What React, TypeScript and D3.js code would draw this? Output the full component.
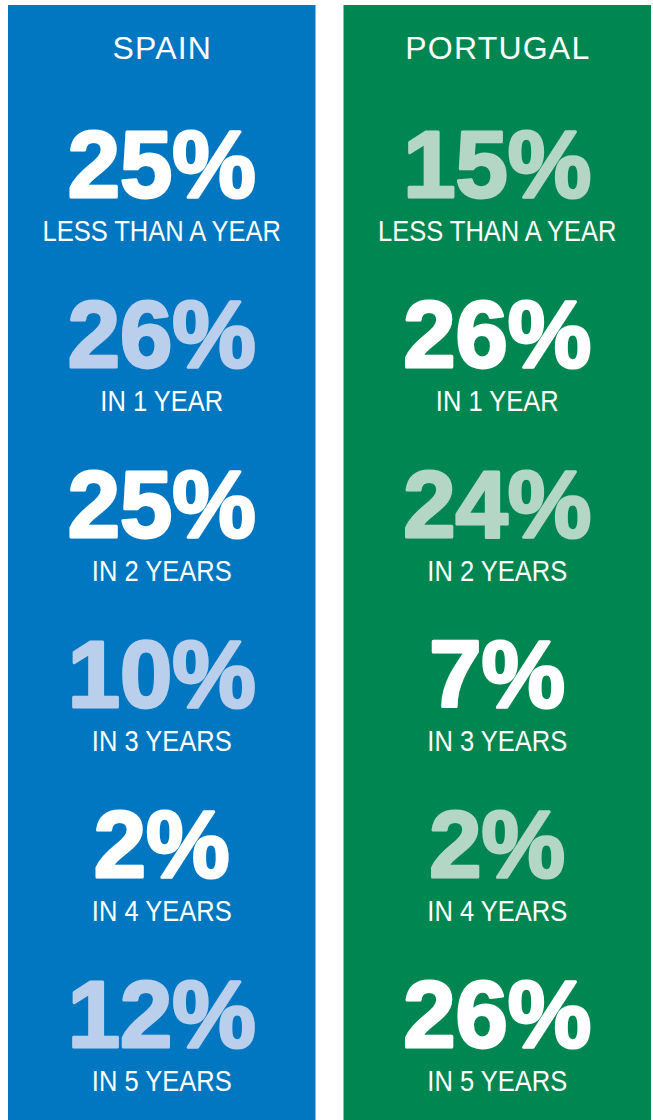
import { useEffect } from 'react';
import * as d3 from 'd3';

const countries = ['SPAIN', 'PORTUGAL'];
const periods = ['LESS THAN A YEAR', 'IN 1 YEAR', 'IN 2 YEARS', 'IN 3 YEARS', 'IN 4 YEARS', 'IN 5 YEARS'];
const spainValues = [25, 26, 25, 10, 2, 12];
const portugalValues = [15, 26, 24, 7, 2, 26];

const width = 653;
const height = 1120;

const panelColors: Record<string, string> = { SPAIN: '#0077c0', PORTUGAL: '#008751' };
const lightColors: Record<string, string> = { SPAIN: '#bacfec', PORTUGAL: '#b3d7c4' };

export default function App() {
  useEffect(() => {
    document.body.style.margin = '0';
  }, []);

  const x = d3.scaleBand().domain(countries).range([8, 651]).paddingInner(0.0835);
  const y = d3.scalePoint().domain(periods).range([197, 1047]);

  const series: Record<string, number[]> = { SPAIN: spainValues, PORTUGAL: portugalValues };

  return (
    <svg width={width} height={height} style={{ display: 'block', background: '#fff' }}>
      {countries.map((c, ci) => {
        const x0 = x(c) || 0;
        const cx = x0 + x.bandwidth() / 2;
        return (
          <g key={c}>
            <rect x={x0} y={5} width={x.bandwidth()} height={height - 5} fill={panelColors[c]} />
            <text
              transform={`translate(${cx + 0.6},59)`}
              textAnchor="middle"
              fill="#fff"
              fontFamily="'Liberation Sans', Arial, sans-serif"
              fontSize={32}
              letterSpacing={1.2}
            >
              {c}
            </text>
            {periods.map((p, i) => {
              // Spain starts white, Portugal starts light, then they alternate
              const white = (i + ci) % 2 === 0;
              const fill = white ? '#ffffff' : lightColors[c];
              const yy = y(p) || 0;
              return (
                <g key={p}>
                  <text
                    x={cx}
                    y={yy}
                    textAnchor="middle"
                    fill={fill}
                    stroke={fill}
                    strokeWidth={3}
                    strokeLinejoin="round"
                    fontFamily="'Liberation Sans', Arial, sans-serif"
                    fontWeight="bold"
                    fontSize={94}
                  >
                    {`${series[c][i]}%`}
                  </text>
                  <text
                    transform={`translate(${cx},${yy + 43.5}) scale(0.85,1)`}
                    textAnchor="middle"
                    fill="#fff"
                    fontFamily="'Liberation Sans', Arial, sans-serif"
                    fontSize={30}
                  >
                    {p}
                  </text>
                </g>
              );
            })}
          </g>
        );
      })}
    </svg>
  );
}
